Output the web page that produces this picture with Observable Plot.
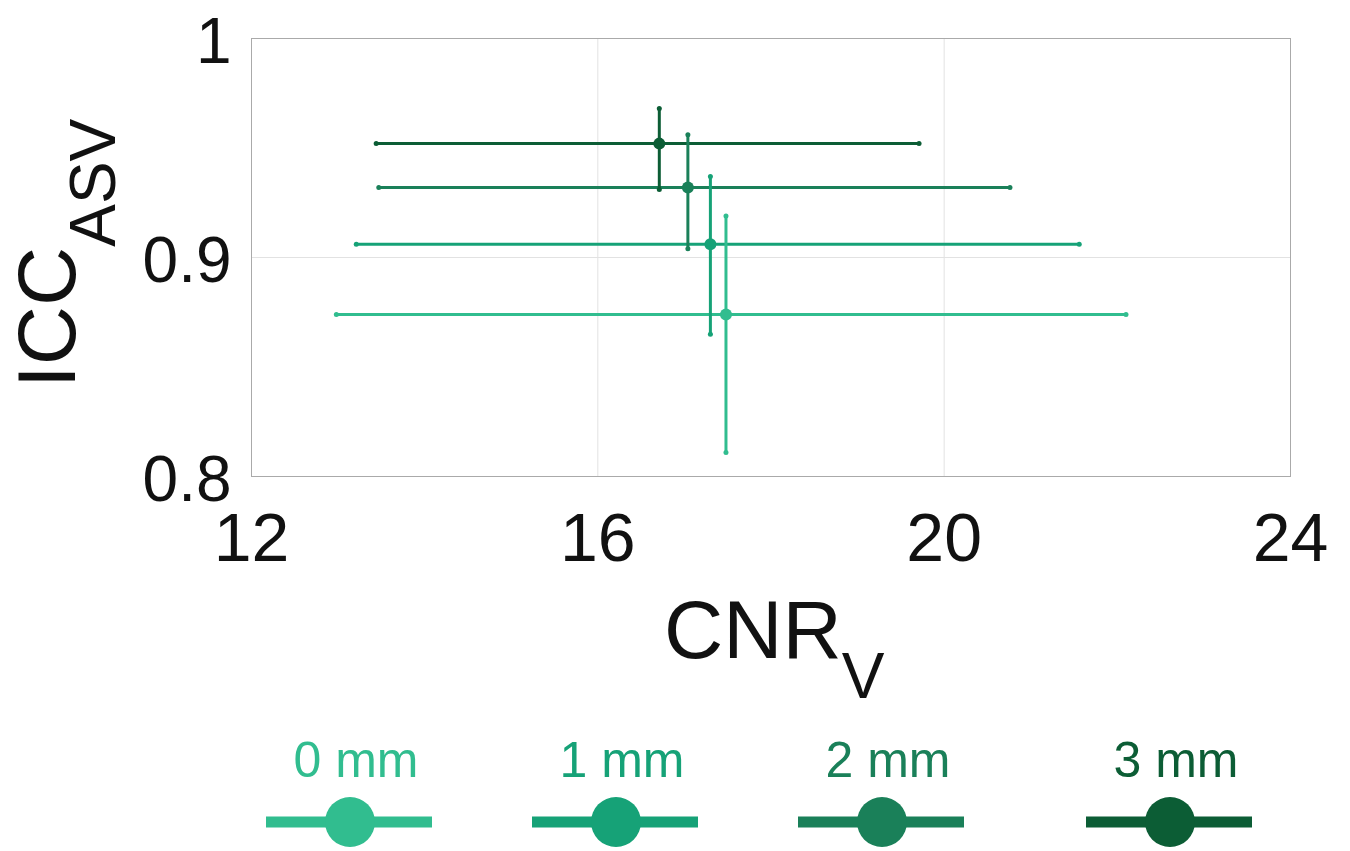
<!DOCTYPE html>
<html><head><meta charset="utf-8">
<script src="https://cdn.jsdelivr.net/npm/d3@7"></script>
<script src="https://cdn.jsdelivr.net/npm/@observablehq/plot@0.6"></script>
<style>
body{margin:0;background:#fff;font-family:"Liberation Sans",Arial,sans-serif;}
#wrap{position:relative;width:1350px;height:851px;overflow:hidden;}
#chart svg{display:block;}
#legend{position:absolute;left:0;top:720px;}
</style></head><body><div id="wrap"><div id="chart"></div><div id="legend"></div></div>
<script>
const groups = ["0 mm", "1 mm", "2 mm", "3 mm"];
const colors = ["#31bd8f", "#16a277", "#1a8059", "#0c5d35"];
const cnr   = [17.48, 17.30, 17.04, 16.71];
const cnrLo = [12.98, 13.21, 13.47, 13.44];
const cnrHi = [22.10, 21.56, 20.76, 19.71];
const icc   = [0.874, 0.906, 0.932, 0.952];
const iccLo = [0.811, 0.865, 0.904, 0.931];
const iccHi = [0.919, 0.937, 0.956, 0.968];
const xTicks = [12, 16, 20, 24];
const yTicks = [0.8, 0.9, 1];
const legendX = [350, 616, 882, 1170];

const data = groups.map((g, i) => ({g, x: cnr[i], xlo: cnrLo[i], xhi: cnrHi[i], y: icc[i], ylo: iccLo[i], yhi: iccHi[i]}));
const ends = data.flatMap(d => [
  {g: d.g, x: d.xlo, y: d.y}, {g: d.g, x: d.xhi, y: d.y},
  {g: d.g, x: d.x, y: d.ylo}, {g: d.g, x: d.x, y: d.yhi}
]);
const ff = '"Liberation Sans", Arial, sans-serif';

const plot = Plot.plot({
  width: 1350, height: 720,
  marginLeft: 251, marginRight: 60, marginTop: 38, marginBottom: 244,
  style: {fontFamily: ff, background: "#fff", color: "#111"},
  x: {domain: [12, 24], ticks: xTicks},
  y: {domain: [0.8, 1], ticks: yTicks},
  color: {domain: groups, range: colors},
  marks: [
    Plot.gridX(xTicks, {stroke: "#e2e2e2", strokeOpacity: 1}),
    Plot.gridY(yTicks, {stroke: "#e2e2e2", strokeOpacity: 1}),
    Plot.frame({stroke: "#aaaaaa"}),
    Plot.axisX(xTicks, {tickSize: 0, tickPadding: 36, fontSize: 68, tickFormat: d => String(d), label: null}),
    Plot.axisY(yTicks, {tickSize: 0, tickPadding: 20, fontSize: 64, dy: 4, tickFormat: d => String(d), label: null}),
    Plot.ruleY(data, {y: "y", x1: "xlo", x2: "xhi", stroke: "g", strokeWidth: 3}),
    Plot.ruleX(data, {x: "x", y1: "ylo", y2: "yhi", stroke: "g", strokeWidth: 3}),
    Plot.dot(ends, {x: "x", y: "y", fill: "g", r: 2.5}),
    Plot.dot(data, {x: "x", y: "y", fill: "g", r: 6})
  ]
});
document.getElementById("chart").appendChild(plot);

// axis titles with subscripts
const svg = d3.select(plot);
const tx = svg.append("text").attr("x", 664).attr("y", 658).attr("text-anchor", "start")
  .attr("font-family", ff).attr("font-size", 82).attr("fill", "#111");
tx.append("tspan").text("CNR");
tx.append("tspan").attr("font-size", 64).attr("dy", 40).text("V");
const ty = svg.append("text").attr("transform", "translate(75,388) rotate(-90)").attr("text-anchor", "start")
  .attr("font-family", ff).attr("font-size", 82).attr("fill", "#111");
ty.append("tspan").text("ICC");
ty.append("tspan").attr("font-size", 64).attr("dy", 40).text("ASV");

// legend
const leg = d3.select("#legend").append("svg").attr("width", 1350).attr("height", 131);
groups.forEach((g, i) => {
  const cx = legendX[i];
  const gg = leg.append("g").attr("transform", `translate(${cx},0)`);
  gg.append("text").attr("x", 6).attr("y", 57).attr("text-anchor", "middle")
    .attr("font-family", ff).attr("font-size", 50).attr("fill", colors[i]).text(g);
  gg.append("line").attr("x1", -84).attr("x2", 82).attr("y1", 102).attr("y2", 102)
    .attr("stroke", colors[i]).attr("stroke-width", 11);
  gg.append("circle").attr("cx", 0).attr("cy", 102).attr("r", 25).attr("fill", colors[i]);
});
</script></body></html>
